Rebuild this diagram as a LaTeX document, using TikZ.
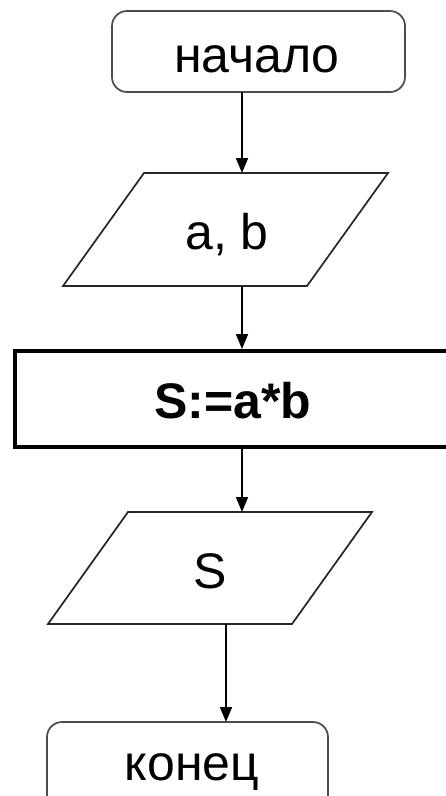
\documentclass[tikz,border=0pt]{standalone}
\usepackage{fontspec}
\setmainfont{Liberation Sans}
\usetikzlibrary{arrows.meta}
\begin{document}
\begin{tikzpicture}[x=1pt,y=-1pt,
  thinline/.style={draw=black!85,line width=1.7pt},
  thickline/.style={draw=black,line width=4.5pt},
  arr/.style={draw=black,line width=1.7pt,-{Triangle[length=15pt,width=12pt]}},
  lbl/.style={anchor=base,inner sep=0pt,font=\fontsize{50}{60}\selectfont},
  lblb/.style={anchor=base,inner sep=0pt,font=\fontsize{50}{60}\selectfont\bfseries}]
\useasboundingbox (0,0) rectangle (446,796);
\clip (0,0) rectangle (446,796);
\fill[white] (0,0) rectangle (446,796);
% shapes
\draw[thinline,draw=black!70,rounded corners=15pt] (112,11) rectangle (405,92);
\draw[thinline] (144,173) -- (388,173) -- (307,286) -- (63,286) -- cycle;
\draw[thickline] (470,351) -- (15,351) -- (15,447) -- (470,447);
\draw[thinline] (128,512) -- (372,512) -- (292,624) -- (48,624) -- cycle;
\draw[thinline,draw=black!70,rounded corners=15pt] (47,850) -- (47,722) -- (328,722) -- (328,850);
% anchor coordinates
\coordinate (s1) at (242,92);
\coordinate (p1t) at (242,173);
\coordinate (p1b) at (242,286);
\coordinate (rt) at (242,349);
\coordinate (rb) at (242,449);
\coordinate (p2t) at (242,512);
\coordinate (p2b) at (226,624);
\coordinate (et) at (226,722);
% texts
\node[lbl] (start) at (257,72) {начало};
\node[lbl] (input) at (227,249) {a, b};
\node[lblb] (calc) at (233,418) {S:=a*b};
\node[lbl] (output) at (210,588) {S};
\node[lbl] (finish) at (192,780) {конец};
% connectors
\draw[arr] (s1) -- (p1t);
\draw[arr] (p1b) -- (rt);
\draw[arr] (rb) -- (p2t);
\draw[arr] (p2b) -- (et);
\end{tikzpicture}
\end{document}
